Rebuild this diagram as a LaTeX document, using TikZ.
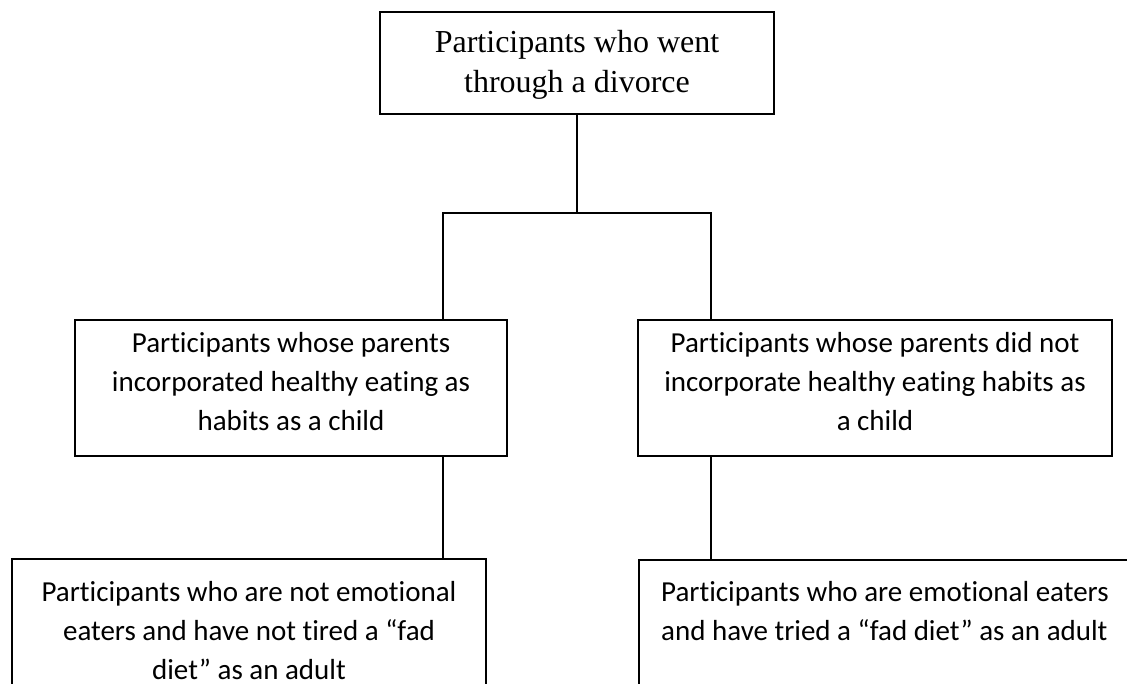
\documentclass[tikz,border=0pt]{standalone}
\usepackage{fontspec}
\setmainfont[Ligatures=NoCommon]{Carlito}
\newfontfamily\tnr{Liberation Serif}
\newcommand{\calfont}{\fontsize{29}{39}\selectfont}
\newcommand{\topfont}{\tnr\fontsize{32}{40}\selectfont}
\newcommand{\fst}{\rule{0pt}{26pt}}
\begin{document}
\begin{tikzpicture}[x=1pt,y=-1pt,
  box/.style={draw, line width=1.6pt, inner sep=0pt, rectangle},
  conn/.style={line width=1.6pt},
  lbl/.style={inner sep=0pt, font=\calfont, align=center, anchor=north},
  lbll/.style={inner sep=0pt, font=\calfont, align=left, anchor=north west}]
\useasboundingbox (0,0) rectangle (1127,683);
\clip (0,0) rectangle (1127,683);
% boxes
\node[box, minimum width=394pt, minimum height=102pt] (top) at (577,63) {};
\node[box, minimum width=432pt, minimum height=136pt] (ml) at (291,388) {};
\node[box, minimum width=474pt, minimum height=136pt] (mr) at (875,388) {};
\node[box, minimum width=474pt, minimum height=161pt] (bl) at (249,639.5) {};
\node[box, minimum width=511pt, minimum height=160pt] (br) at (894.5,640) {};
% texts
\node[lbl, font=\topfont] (ttop) at (577,26) {\fst Participants who went\\through a divorce};
\node[lbl] (tml) at (291,326) {\fst Participants whose parents\\incorporated healthy eating as\\habits as a child};
\node[lbl] (tmr) at (875,326) {\fst Participants whose parents did not\\incorporate healthy eating habits as\\a child};
\node[lbl] (tbl) at (249,575) {\fst Participants who are not emotional\\eaters and have not tired a “fad\\diet” as an adult};
\node[lbll] (tbr) at (661,575) {\fst Participants who are emotional eaters\\and have tried a “fad diet” as an adult};
% junctions
\coordinate (jl) at (443,213);
\coordinate (jr) at (711,213);
% connectors
\draw[conn] (top.south) -- (top.south |- jl);
\draw[conn] (jl |- ml.north) -- (jl) -- (jr) -- (jr |- mr.north);
\draw[conn] (jl |- ml.south) -- (jl |- bl.north);
\draw[conn] (jr |- mr.south) -- (jr |- br.north);
\end{tikzpicture}
\end{document}
